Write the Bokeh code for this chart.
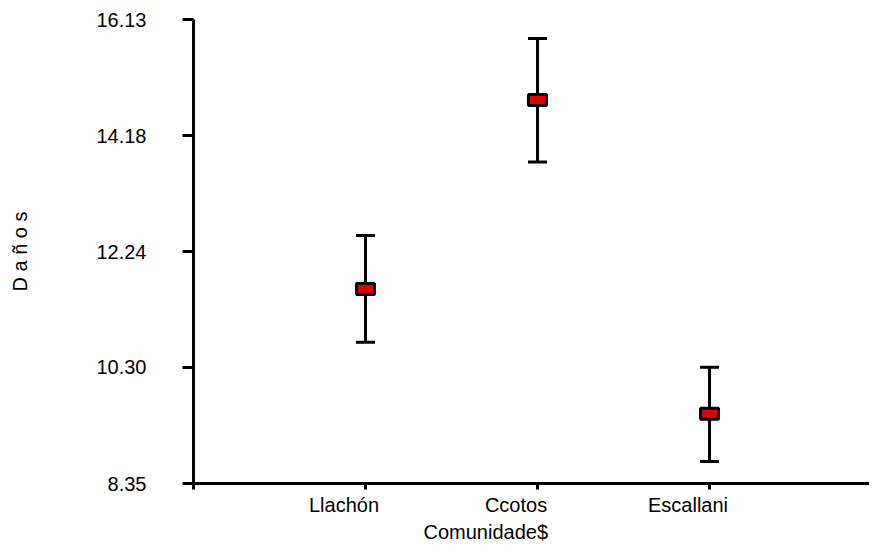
from bokeh.plotting import figure
from bokeh.models import (ColumnDataSource, Whisker, TeeHead, FixedTicker, Range1d,
                          LinearAxis, Title)
from bokeh.embed import file_html
from bokeh.resources import INLINE

# ---- data ----
categories = ["Llachón", "Ccotos", "Escallani"]
means = [11.61, 14.78, 9.52]
upper = [12.51, 15.81, 10.30]
lower = [10.72, 13.74, 8.72]
y_ticks = [8.35, 10.30, 12.24, 14.18, 16.13]
y_tick_labels = ["8.35", "10.30", "12.24", "14.18", "16.13"]

xs = [i + 1 for i in range(len(categories))]
src = ColumnDataSource(dict(x=xs, mean=means, upper=upper, lower=lower))

FONT = "Liberation Sans"
LABEL_SHIFT = 0.125  # category labels sit slightly left of their ticks

p = figure(width=869, height=542, output_backend="svg", toolbar_location=None,
           x_range=Range1d(0, 3.93), y_range=Range1d(y_ticks[0], y_ticks[-1]),
           x_axis_location=None,
           min_border_left=193, min_border_top=19, min_border_bottom=57,
           min_border_right=0)
p.outline_line_color = None
p.grid.visible = False
p.background_fill_color = "white"
p.border_fill_color = "white"

# error bars
w = Whisker(source=src, base="x", upper="upper", lower="lower",
            line_width=3, line_color="black",
            upper_head=TeeHead(size=19, line_width=3, line_color="black"),
            lower_head=TeeHead(size=19, line_width=3, line_color="black"))
p.add_layout(w)

# mean markers
p.rect(x="x", y="mean", width=18, height=11, width_units="screen",
       height_units="screen", source=src, fill_color="#e00000",
       line_color="black", line_width=3)

# x axis (line + ticks)
xa = LinearAxis(ticker=FixedTicker(ticks=[0] + xs))
xa.major_label_overrides = {t: "" for t in [0] + xs}
xa.major_label_text_font_size = "1px"
xa.major_label_standoff = 0
xa.minor_tick_line_color = None
xa.major_tick_in = 0
xa.major_tick_out = 6
xa.major_tick_line_width = 3
xa.axis_line_width = 3
p.add_layout(xa, "below")

# x category labels
label_pos = [x - LABEL_SHIFT for x in xs]
xl = LinearAxis(ticker=FixedTicker(ticks=label_pos))
xl.major_label_overrides = {t: c for t, c in zip(label_pos, categories)}
xl.axis_line_color = None
xl.major_tick_line_color = None
xl.minor_tick_line_color = None
xl.major_tick_in = 0
xl.major_tick_out = 0
xl.major_label_standoff = 4
xl.major_label_text_font = FONT
xl.major_label_text_font_size = "20px"
xl.major_label_text_color = "black"
p.add_layout(xl, "below")

# x axis title
p.add_layout(Title(text="Comunidade$", align="left", offset=230,
                   text_font=FONT, text_font_size="20px",
                   text_font_style="normal", text_color="black",
                   standoff=0), "below")

# y axis
ya = p.yaxis[0]
ya.ticker = FixedTicker(ticks=y_ticks)
ya.major_label_overrides = {t: l for t, l in zip(y_ticks, y_tick_labels)}
ya.minor_tick_line_color = None
ya.major_tick_in = 0
ya.major_tick_out = 11
ya.major_tick_line_width = 3
ya.axis_line_width = 3
ya.major_label_standoff = 36
ya.major_label_text_font = FONT
ya.major_label_text_font_size = "20px"
ya.major_label_text_color = "black"
ya.axis_label = "D a ñ o s"
ya.axis_label_text_font = FONT
ya.axis_label_text_font_size = "20px"
ya.axis_label_text_font_style = "normal"
ya.axis_label_text_color = "black"
ya.axis_label_standoff = 62

open("out.html", "w").write(file_html(p, INLINE))
